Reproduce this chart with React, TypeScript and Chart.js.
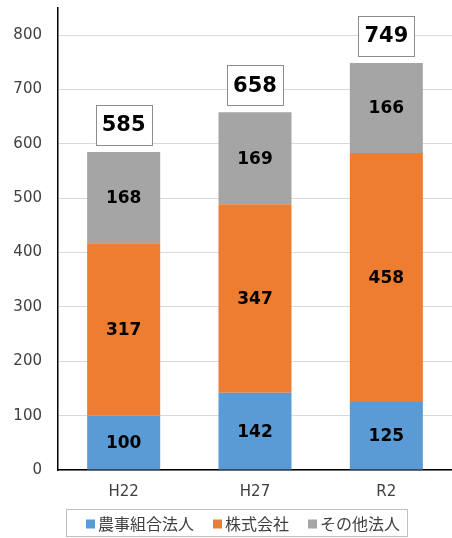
import React, { useEffect, useRef } from "react";
import { Chart, registerables } from "chart.js";

Chart.register(...registerables);

const categories = ["H22", "H27", "R2"];
const seriesNames = ["農事組合法人", "株式会社", "その他法人"];
const noujiValues = [100, 142, 125];
const kabushikiValues = [317, 347, 458];
const sonotaValues = [168, 169, 166];
const totals = [585, 658, 749];
const colors = ["#5B9BD5", "#ED7D31", "#A5A5A5"];

const FONT = "'DejaVu Sans', 'Noto Sans CJK JP', sans-serif";
const LEGEND_FONT = "'Noto Sans CJK JP', 'DejaVu Sans', sans-serif";

const labelPlugin = {
  id: "labels",
  afterDatasetsDraw(chart: any) {
    const ctx = chart.ctx;
    ctx.save();
    chart.data.datasets.forEach((ds: any, di: number) => {
      const meta = chart.getDatasetMeta(di);
      meta.data.forEach((el: any, i: number) => {
        const y = (el.y + el.base) / 2;
        ctx.font = `bold 17px ${FONT}`;
        ctx.fillStyle = "#000";
        ctx.textAlign = "center";
        ctx.textBaseline = "middle";
        ctx.fillText(String(ds.data[i]), el.x, y + 1);
      });
    });
    const last = chart.getDatasetMeta(chart.data.datasets.length - 1);
    last.data.forEach((el: any, i: number) => {
      const text = String(totals[i]);
      ctx.font = `bold 21px ${FONT}`;
      const w = ctx.measureText(text).width + 12;
      const h = 40;
      const bottom = el.y - 7;
      const x0 = el.x - w / 2;
      ctx.fillStyle = "#fff";
      ctx.fillRect(x0, bottom - h, w, h);
      ctx.strokeStyle = "#8c8c8c";
      ctx.lineWidth = 1;
      ctx.strokeRect(Math.round(x0) + 0.5, Math.round(bottom - h) + 0.5, Math.round(w), h);
      ctx.fillStyle = "#000";
      ctx.textAlign = "center";
      ctx.textBaseline = "middle";
      ctx.fillText(text, el.x, bottom - h / 2 + 1);
    });
    ctx.restore();
  },
  afterDraw(chart: any) {
    const ctx = chart.ctx;
    ctx.save();
    ctx.strokeStyle = "#bfbfbf";
    ctx.lineWidth = 1;
    ctx.strokeRect(66.5, 509.5, 341, 27);
    const itemX = [86, 213, 308];
    const cy = 524;
    ctx.font = `16px ${LEGEND_FONT}`;
    ctx.textAlign = "left";
    ctx.textBaseline = "middle";
    chart.data.datasets.forEach((ds: any, i: number) => {
      ctx.fillStyle = ds.backgroundColor;
      ctx.fillRect(itemX[i], cy - 4.5, 9, 9);
      ctx.fillStyle = "#404040";
      ctx.fillText(ds.label, itemX[i] + 12, cy);
    });
    ctx.restore();
  },
};

export default function App() {
  const ref = useRef<HTMLCanvasElement>(null);
  useEffect(() => {
    document.body.style.margin = "0";
    const chart = new Chart(ref.current!, {
      type: "bar",
      data: {
        labels: categories,
        datasets: [
          { label: seriesNames[0], data: noujiValues, backgroundColor: colors[0] },
          { label: seriesNames[1], data: kabushikiValues, backgroundColor: colors[1] },
          { label: seriesNames[2], data: sonotaValues, backgroundColor: colors[2] },
        ],
      },
      options: {
        animation: false,
        responsive: false,
        devicePixelRatio: 1,
        layout: { padding: { top: 8, right: 0, left: 0, bottom: 0 } },
        datasets: { bar: { categoryPercentage: 1, barPercentage: 0.556 } } as any,
        scales: {
          x: {
            stacked: true,
            afterFit: (s: any) => { s.height = 68; s.paddingLeft = 0; s.paddingRight = 0; },
            grid: { display: false, drawTicks: false },
            border: { color: "#000", width: 1.5 },
            ticks: { color: "#404040", font: { family: FONT, size: 15 }, padding: 13 },
          },
          y: {
            stacked: true,
            min: 0,
            max: 850,
            afterFit: (s: any) => { s.width = 58; s.paddingTop = 0; s.paddingBottom = 0; },
            border: { color: "#000", width: 1.5 },
            grid: {
              drawTicks: false,
              color: (c: any) => (c.tick && c.tick.value === 850 ? "rgba(0,0,0,0)" : "#d9d9d9"),
            },
            ticks: {
              stepSize: 100,
              color: "#404040",
              font: { family: FONT, size: 15 },
              padding: 16,
              callback: (v: any) => (v === 850 ? "" : String(v)),
            },
          },
        },
        plugins: {
          legend: { display: false },
          tooltip: { enabled: false },
        },
      },
      plugins: [labelPlugin],
    });
    return () => chart.destroy();
  }, []);
  return (
    <div style={{ width: 452, height: 538 }}>
      <canvas ref={ref} width={452} height={538} style={{ width: 452, height: 538 }} />
    </div>
  );
}
